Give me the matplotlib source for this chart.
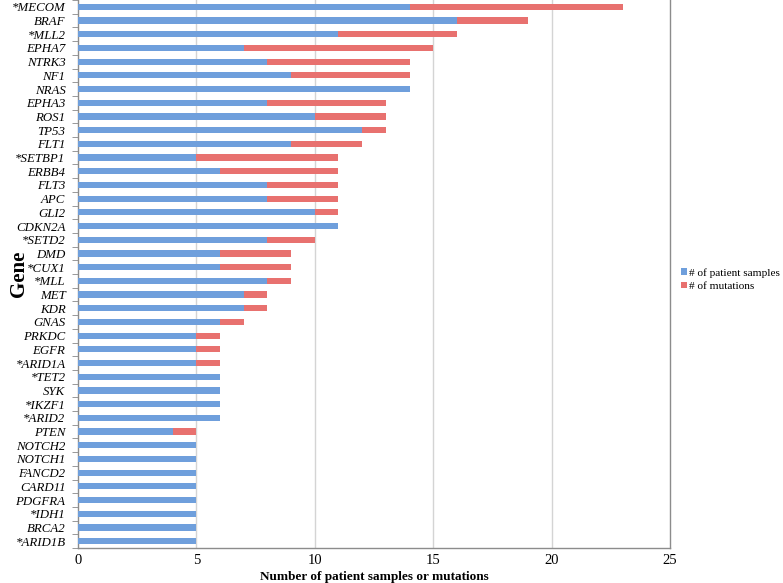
import matplotlib
matplotlib.use("Agg")
import matplotlib.pyplot as plt
import numpy as np

genes = ["*MECOM", "BRAF", "*MLL2", "EPHA7", "NTRK3", "NF1", "NRAS", "EPHA3", "ROS1", "TP53",
         "FLT1", "*SETBP1", "ERBB4", "FLT3", "APC", "GLI2", "CDKN2A", "*SETD2", "DMD", "*CUX1",
         "*MLL", "MET", "KDR", "GNAS", "PRKDC", "EGFR", "*ARID1A", "*TET2", "SYK", "*IKZF1",
         "*ARID2", "PTEN", "NOTCH2", "NOTCH1", "FANCD2", "CARD11", "PDGFRA", "*IDH1", "BRCA2", "*ARID1B"]
patient_samples = [14, 16, 11, 7, 8, 9, 14, 8, 10, 12,
                   9, 5, 6, 8, 8, 10, 11, 8, 6, 6,
                   8, 7, 7, 6, 5, 5, 5, 6, 6, 6,
                   6, 4, 5, 5, 5, 5, 5, 5, 5, 5]
mutations = [9, 3, 5, 8, 6, 5, 0, 5, 3, 1,
             3, 6, 5, 3, 3, 1, 0, 2, 3, 3,
             1, 1, 1, 1, 1, 1, 1, 0, 0, 0,
             0, 1, 0, 0, 0, 0, 0, 0, 0, 0]
xticks = [0, 5, 10, 15, 20, 25]

plt.rcParams['font.family'] = ['Liberation Serif', 'DejaVu Serif']

fig = plt.figure(figsize=(7.83, 5.83), dpi=100)
ax = fig.add_axes([78/783, 35/583, 592/783, 548/583])

y = np.arange(len(genes))
blue = "#6f9fdc"
red = "#e8716f"
h = 0.45
ax.barh(y, patient_samples, height=h, color=blue, label="# of patient samples", zorder=3)
ax.barh(y, mutations, left=patient_samples, height=h, color=red, label="# of mutations", zorder=3)

ax.set_ylim(len(genes) - 0.5, -0.5)
ax.set_xlim(0, 25)
ax.set_xticks(xticks)
ax.set_xticklabels([str(t) for t in xticks], fontsize=10.5)
ax.set_yticks(y)
ax.set_yticklabels(genes, fontsize=9.3, style='italic')
ax.tick_params(axis='y', length=0, pad=9)
ax.tick_params(axis='x', length=0, pad=4)
ax.set_yticks(np.arange(len(genes) + 1) - 0.5, minor=True)
ax.tick_params(axis='y', which='minor', length=4, color='#888888', direction='out')

for t in xticks[1:-1]:
    ax.axvline(t, color='#d4d4d4', linewidth=1.0, zorder=1)

for s in ['left', 'bottom', 'right']:
    ax.spines[s].set_color('#8c8c8c')
    ax.spines[s].set_linewidth(1.0)
ax.spines['top'].set_visible(False)

ax.set_xlabel("Number of patient samples or mutations", fontsize=9.5, fontweight='bold', labelpad=3)
ax.set_ylabel("Gene", fontsize=15, fontweight='bold')
ax.yaxis.set_label_coords(-0.083, 0.5)

ax.legend(loc='center left', bbox_to_anchor=(1.018, 0.49), frameon=False, fontsize=8.1,
          handlelength=0.55, handleheight=0.55, handletextpad=0.2, labelspacing=0.35,
          borderaxespad=0.0, borderpad=0.0)

fig.savefig("out.png", dpi=100)
